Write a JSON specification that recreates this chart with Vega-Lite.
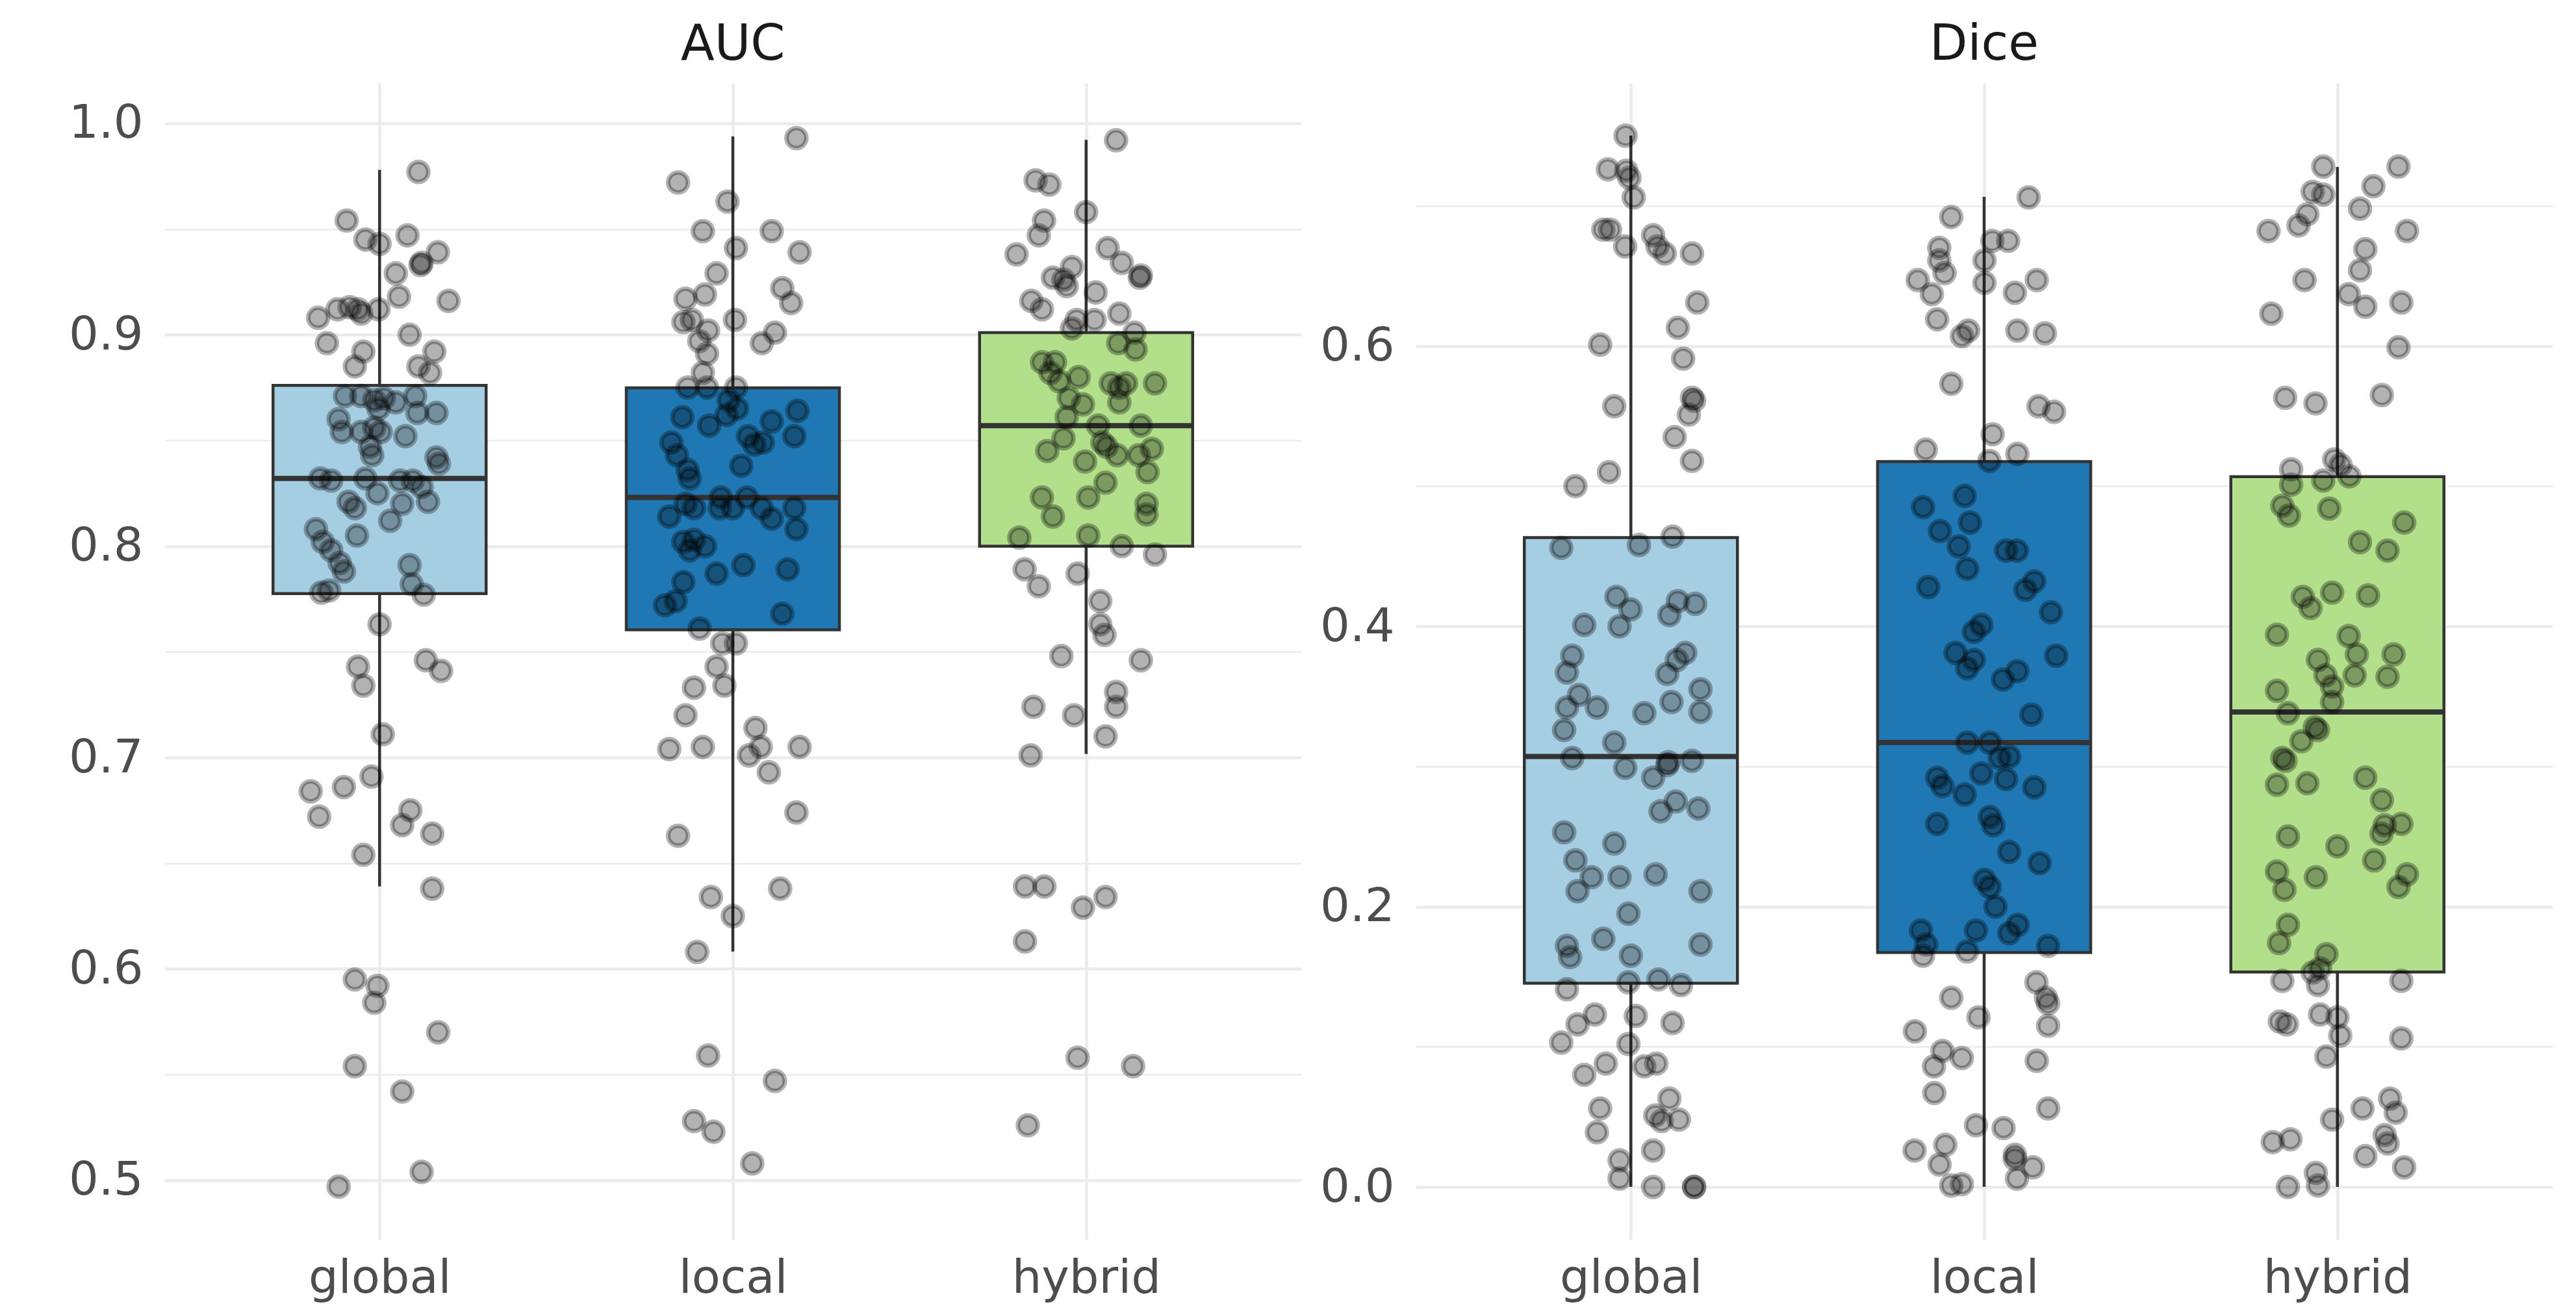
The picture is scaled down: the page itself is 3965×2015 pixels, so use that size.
{
"$schema": "https://vega.github.io/schema/vega-lite/v6.json",
"background": "white",
"padding": {"left": 105, "top": 31, "right": 0, "bottom": 12},
"spacing": 28,
"datasets": {
"auc_box": [
{"method":"global","idx":1,"lo":0.639,"q1":0.7775,"med":0.832,"q3":0.876,"hi":0.978},
{"method":"local","idx":2,"lo":0.6082,"q1":0.7604,"med":0.823,"q3":0.8749,"hi":0.9938},
{"method":"hybrid","idx":3,"lo":0.7017,"q1":0.800,"med":0.857,"q3":0.901,"hi":0.9922}
],
"dice_box": [
{"method":"global","idx":1,"lo":0,"q1":0.1454,"med":0.3071,"q3":0.4633,"hi":0.7501},
{"method":"local","idx":2,"lo":0,"q1":0.1673,"med":0.3171,"q3":0.5175,"hi":0.7064},
{"method":"hybrid","idx":3,"lo":0,"q1":0.1533,"med":0.3389,"q3":0.5068,"hi":0.7277}
],
"auc_pts": [
{"m":"global","pos":1.110,"v":0.977},{"m":"global","pos":0.907,"v":0.954},{"m":"global","pos":0.960,"v":0.945},{"m":"global","pos":1.000,"v":0.943},{"m":"global","pos":1.079,"v":0.947},{"m":"global","pos":1.165,"v":0.939},{"m":"global","pos":1.116,"v":0.933},{"m":"global","pos":1.119,"v":0.934},{"m":"global","pos":1.046,"v":0.929},{"m":"global","pos":1.055,"v":0.918},{"m":"global","pos":1.195,"v":0.916},{"m":"global","pos":0.826,"v":0.908},{"m":"global","pos":0.881,"v":0.912},{"m":"global","pos":0.915,"v":0.913},{"m":"global","pos":0.939,"v":0.912},{"m":"global","pos":0.948,"v":0.910},{"m":"global","pos":0.997,"v":0.912},{"m":"global","pos":0.851,"v":0.896},{"m":"global","pos":1.085,"v":0.900},{"m":"global","pos":0.954,"v":0.892},{"m":"global","pos":0.930,"v":0.885},{"m":"global","pos":1.155,"v":0.892},{"m":"global","pos":1.110,"v":0.885},{"m":"global","pos":1.143,"v":0.882},{"m":"global","pos":0.902,"v":0.871},{"m":"global","pos":0.948,"v":0.871},{"m":"global","pos":0.985,"v":0.869},{"m":"global","pos":1.012,"v":0.870},{"m":"global","pos":1.046,"v":0.868},{"m":"global","pos":1.101,"v":0.871},{"m":"global","pos":0.997,"v":0.865},{"m":"global","pos":0.884,"v":0.860},{"m":"global","pos":0.893,"v":0.854},{"m":"global","pos":0.948,"v":0.854},{"m":"global","pos":0.985,"v":0.856},{"m":"global","pos":1.003,"v":0.854},{"m":"global","pos":1.073,"v":0.852},{"m":"global","pos":1.161,"v":0.863},{"m":"global","pos":1.107,"v":0.863},{"m":"global","pos":0.973,"v":0.847},{"m":"global","pos":1.161,"v":0.842},{"m":"global","pos":1.168,"v":0.839},{"m":"global","pos":0.979,"v":0.843},{"m":"global","pos":0.832,"v":0.832},{"m":"global","pos":0.863,"v":0.831},{"m":"global","pos":0.960,"v":0.832},{"m":"global","pos":1.058,"v":0.831},{"m":"global","pos":1.094,"v":0.831},{"m":"global","pos":1.119,"v":0.828},{"m":"global","pos":0.994,"v":0.825},{"m":"global","pos":1.137,"v":0.821},{"m":"global","pos":1.064,"v":0.820},{"m":"global","pos":0.912,"v":0.821},{"m":"global","pos":0.930,"v":0.818},{"m":"global","pos":1.030,"v":0.812},{"m":"global","pos":0.936,"v":0.805},{"m":"global","pos":0.820,"v":0.808},{"m":"global","pos":0.839,"v":0.802},{"m":"global","pos":0.863,"v":0.798},{"m":"global","pos":0.887,"v":0.792},{"m":"global","pos":0.899,"v":0.788},{"m":"global","pos":1.085,"v":0.791},{"m":"global","pos":1.091,"v":0.782},{"m":"global","pos":1.125,"v":0.777},{"m":"global","pos":0.857,"v":0.779},{"m":"global","pos":0.835,"v":0.778},{"m":"global","pos":1.000,"v":0.763},{"m":"global","pos":0.939,"v":0.743},{"m":"global","pos":0.954,"v":0.734},{"m":"global","pos":1.131,"v":0.746},{"m":"global","pos":1.174,"v":0.741},{"m":"global","pos":1.009,"v":0.711},{"m":"global","pos":0.977,"v":0.691},{"m":"global","pos":0.805,"v":0.684},{"m":"global","pos":0.899,"v":0.686},{"m":"global","pos":0.829,"v":0.672},{"m":"global","pos":1.087,"v":0.675},{"m":"global","pos":1.064,"v":0.668},{"m":"global","pos":1.149,"v":0.664},{"m":"global","pos":0.954,"v":0.654},{"m":"global","pos":1.149,"v":0.638},{"m":"global","pos":0.930,"v":0.595},{"m":"global","pos":0.994,"v":0.592},{"m":"global","pos":0.985,"v":0.584},{"m":"global","pos":1.166,"v":0.570},{"m":"global","pos":0.930,"v":0.554},{"m":"global","pos":1.064,"v":0.542},{"m":"global","pos":1.119,"v":0.504},{"m":"global","pos":0.884,"v":0.497},
{"m":"local","pos":2.180,"v":0.993},{"m":"local","pos":1.845,"v":0.972},{"m":"local","pos":1.985,"v":0.963},{"m":"local","pos":1.915,"v":0.949},{"m":"local","pos":2.110,"v":0.949},{"m":"local","pos":2.009,"v":0.941},{"m":"local","pos":2.189,"v":0.939},{"m":"local","pos":1.954,"v":0.929},{"m":"local","pos":1.866,"v":0.917},{"m":"local","pos":1.921,"v":0.919},{"m":"local","pos":2.140,"v":0.922},{"m":"local","pos":2.165,"v":0.915},{"m":"local","pos":1.860,"v":0.906},{"m":"local","pos":1.884,"v":0.907},{"m":"local","pos":1.930,"v":0.902},{"m":"local","pos":2.006,"v":0.907},{"m":"local","pos":2.119,"v":0.901},{"m":"local","pos":2.082,"v":0.896},{"m":"local","pos":1.905,"v":0.897},{"m":"local","pos":1.927,"v":0.891},{"m":"local","pos":1.915,"v":0.882},{"m":"local","pos":1.872,"v":0.875},{"m":"local","pos":1.927,"v":0.875},{"m":"local","pos":2.009,"v":0.875},{"m":"local","pos":1.988,"v":0.869},{"m":"local","pos":2.012,"v":0.865},{"m":"local","pos":2.183,"v":0.864},{"m":"local","pos":1.857,"v":0.861},{"m":"local","pos":1.933,"v":0.857},{"m":"local","pos":1.982,"v":0.862},{"m":"local","pos":2.110,"v":0.859},{"m":"local","pos":2.043,"v":0.852},{"m":"local","pos":2.061,"v":0.848},{"m":"local","pos":2.085,"v":0.849},{"m":"local","pos":2.174,"v":0.852},{"m":"local","pos":1.826,"v":0.849},{"m":"local","pos":1.842,"v":0.843},{"m":"local","pos":1.872,"v":0.836},{"m":"local","pos":1.878,"v":0.832},{"m":"local","pos":2.024,"v":0.838},{"m":"local","pos":1.966,"v":0.823},{"m":"local","pos":2.040,"v":0.823},{"m":"local","pos":1.820,"v":0.814},{"m":"local","pos":1.866,"v":0.820},{"m":"local","pos":1.890,"v":0.818},{"m":"local","pos":1.963,"v":0.818},{"m":"local","pos":2.000,"v":0.818},{"m":"local","pos":2.082,"v":0.818},{"m":"local","pos":2.110,"v":0.813},{"m":"local","pos":2.174,"v":0.818},{"m":"local","pos":2.180,"v":0.808},{"m":"local","pos":1.860,"v":0.802},{"m":"local","pos":1.890,"v":0.803},{"m":"local","pos":1.921,"v":0.800},{"m":"local","pos":1.878,"v":0.798},{"m":"local","pos":1.954,"v":0.787},{"m":"local","pos":2.030,"v":0.791},{"m":"local","pos":2.155,"v":0.789},{"m":"local","pos":1.860,"v":0.783},{"m":"local","pos":1.838,"v":0.774},{"m":"local","pos":1.808,"v":0.772},{"m":"local","pos":2.140,"v":0.768},{"m":"local","pos":1.906,"v":0.761},{"m":"local","pos":1.970,"v":0.754},{"m":"local","pos":2.009,"v":0.754},{"m":"local","pos":1.954,"v":0.743},{"m":"local","pos":1.890,"v":0.733},{"m":"local","pos":1.976,"v":0.734},{"m":"local","pos":1.866,"v":0.720},{"m":"local","pos":1.820,"v":0.704},{"m":"local","pos":1.915,"v":0.705},{"m":"local","pos":2.064,"v":0.714},{"m":"local","pos":2.079,"v":0.705},{"m":"local","pos":2.046,"v":0.701},{"m":"local","pos":2.102,"v":0.693},{"m":"local","pos":2.189,"v":0.705},{"m":"local","pos":2.180,"v":0.674},{"m":"local","pos":1.845,"v":0.663},{"m":"local","pos":2.134,"v":0.638},{"m":"local","pos":1.938,"v":0.634},{"m":"local","pos":2.000,"v":0.625},{"m":"local","pos":1.899,"v":0.608},{"m":"local","pos":1.930,"v":0.559},{"m":"local","pos":2.119,"v":0.547},{"m":"local","pos":1.890,"v":0.528},{"m":"local","pos":1.945,"v":0.523},{"m":"local","pos":2.055,"v":0.508},
{"m":"hybrid","pos":3.085,"v":0.992},{"m":"hybrid","pos":2.857,"v":0.973},{"m":"hybrid","pos":2.896,"v":0.971},{"m":"hybrid","pos":3.000,"v":0.958},{"m":"hybrid","pos":2.881,"v":0.954},{"m":"hybrid","pos":2.866,"v":0.947},{"m":"hybrid","pos":2.803,"v":0.938},{"m":"hybrid","pos":3.061,"v":0.941},{"m":"hybrid","pos":3.101,"v":0.934},{"m":"hybrid","pos":3.152,"v":0.927},{"m":"hybrid","pos":3.155,"v":0.928},{"m":"hybrid","pos":2.960,"v":0.932},{"m":"hybrid","pos":2.906,"v":0.927},{"m":"hybrid","pos":2.936,"v":0.926},{"m":"hybrid","pos":2.945,"v":0.923},{"m":"hybrid","pos":3.027,"v":0.920},{"m":"hybrid","pos":2.845,"v":0.916},{"m":"hybrid","pos":2.875,"v":0.912},{"m":"hybrid","pos":3.094,"v":0.910},{"m":"hybrid","pos":3.024,"v":0.907},{"m":"hybrid","pos":2.960,"v":0.903},{"m":"hybrid","pos":2.973,"v":0.907},{"m":"hybrid","pos":3.137,"v":0.901},{"m":"hybrid","pos":3.091,"v":0.896},{"m":"hybrid","pos":3.140,"v":0.893},{"m":"hybrid","pos":2.875,"v":0.887},{"m":"hybrid","pos":2.912,"v":0.887},{"m":"hybrid","pos":2.899,"v":0.882},{"m":"hybrid","pos":2.979,"v":0.880},{"m":"hybrid","pos":2.924,"v":0.878},{"m":"hybrid","pos":3.070,"v":0.877},{"m":"hybrid","pos":3.113,"v":0.877},{"m":"hybrid","pos":3.195,"v":0.877},{"m":"hybrid","pos":3.094,"v":0.875},{"m":"hybrid","pos":2.951,"v":0.870},{"m":"hybrid","pos":2.991,"v":0.867},{"m":"hybrid","pos":3.094,"v":0.868},{"m":"hybrid","pos":2.945,"v":0.861},{"m":"hybrid","pos":3.034,"v":0.857},{"m":"hybrid","pos":3.155,"v":0.857},{"m":"hybrid","pos":2.936,"v":0.851},{"m":"hybrid","pos":2.890,"v":0.845},{"m":"hybrid","pos":3.046,"v":0.849},{"m":"hybrid","pos":3.058,"v":0.847},{"m":"hybrid","pos":2.997,"v":0.840},{"m":"hybrid","pos":3.088,"v":0.843},{"m":"hybrid","pos":3.186,"v":0.846},{"m":"hybrid","pos":3.149,"v":0.843},{"m":"hybrid","pos":3.174,"v":0.835},{"m":"hybrid","pos":3.055,"v":0.830},{"m":"hybrid","pos":2.875,"v":0.823},{"m":"hybrid","pos":3.006,"v":0.823},{"m":"hybrid","pos":3.171,"v":0.820},{"m":"hybrid","pos":3.171,"v":0.815},{"m":"hybrid","pos":2.906,"v":0.814},{"m":"hybrid","pos":2.811,"v":0.804},{"m":"hybrid","pos":3.006,"v":0.805},{"m":"hybrid","pos":3.101,"v":0.800},{"m":"hybrid","pos":3.195,"v":0.796},{"m":"hybrid","pos":2.826,"v":0.789},{"m":"hybrid","pos":2.866,"v":0.781},{"m":"hybrid","pos":2.976,"v":0.787},{"m":"hybrid","pos":3.040,"v":0.774},{"m":"hybrid","pos":3.040,"v":0.763},{"m":"hybrid","pos":3.052,"v":0.758},{"m":"hybrid","pos":2.930,"v":0.748},{"m":"hybrid","pos":3.155,"v":0.746},{"m":"hybrid","pos":3.085,"v":0.731},{"m":"hybrid","pos":3.085,"v":0.724},{"m":"hybrid","pos":2.851,"v":0.724},{"m":"hybrid","pos":2.966,"v":0.720},{"m":"hybrid","pos":3.055,"v":0.710},{"m":"hybrid","pos":2.843,"v":0.701},{"m":"hybrid","pos":2.827,"v":0.639},{"m":"hybrid","pos":2.882,"v":0.639},{"m":"hybrid","pos":3.055,"v":0.634},{"m":"hybrid","pos":2.991,"v":0.629},{"m":"hybrid","pos":2.827,"v":0.613},{"m":"hybrid","pos":2.976,"v":0.558},{"m":"hybrid","pos":3.133,"v":0.554},{"m":"hybrid","pos":2.835,"v":0.526}
],
"dice_pts": [
{"m":"global","pos":0.985,"v":0.750},{"m":"global","pos":0.935,"v":0.726},{"m":"global","pos":0.987,"v":0.725},{"m":"global","pos":0.996,"v":0.720},{"m":"global","pos":1.008,"v":0.706},{"m":"global","pos":0.922,"v":0.683},{"m":"global","pos":0.941,"v":0.683},{"m":"global","pos":0.984,"v":0.671},{"m":"global","pos":1.063,"v":0.679},{"m":"global","pos":1.075,"v":0.671},{"m":"global","pos":1.096,"v":0.666},{"m":"global","pos":1.173,"v":0.666},{"m":"global","pos":1.188,"v":0.631},{"m":"global","pos":1.133,"v":0.613},{"m":"global","pos":0.913,"v":0.601},{"m":"global","pos":1.148,"v":0.591},{"m":"global","pos":1.173,"v":0.563},{"m":"global","pos":1.179,"v":0.561},{"m":"global","pos":1.164,"v":0.551},{"m":"global","pos":0.953,"v":0.557},{"m":"global","pos":1.124,"v":0.535},{"m":"global","pos":1.173,"v":0.518},{"m":"global","pos":0.938,"v":0.510},{"m":"global","pos":0.843,"v":0.500},{"m":"global","pos":1.118,"v":0.464},{"m":"global","pos":0.803,"v":0.456},{"m":"global","pos":1.023,"v":0.458},{"m":"global","pos":0.959,"v":0.421},{"m":"global","pos":0.999,"v":0.412},{"m":"global","pos":1.133,"v":0.418},{"m":"global","pos":1.182,"v":0.416},{"m":"global","pos":1.109,"v":0.408},{"m":"global","pos":0.868,"v":0.401},{"m":"global","pos":0.968,"v":0.400},{"m":"global","pos":0.834,"v":0.379},{"m":"global","pos":1.154,"v":0.381},{"m":"global","pos":1.130,"v":0.376},{"m":"global","pos":0.819,"v":0.367},{"m":"global","pos":1.103,"v":0.366},{"m":"global","pos":0.853,"v":0.351},{"m":"global","pos":0.819,"v":0.342},{"m":"global","pos":0.904,"v":0.342},{"m":"global","pos":1.038,"v":0.338},{"m":"global","pos":1.115,"v":0.346},{"m":"global","pos":1.197,"v":0.355},{"m":"global","pos":1.197,"v":0.339},{"m":"global","pos":0.811,"v":0.326},{"m":"global","pos":0.953,"v":0.317},{"m":"global","pos":0.834,"v":0.306},{"m":"global","pos":0.984,"v":0.299},{"m":"global","pos":1.063,"v":0.292},{"m":"global","pos":1.106,"v":0.303},{"m":"global","pos":1.103,"v":0.301},{"m":"global","pos":1.173,"v":0.304},{"m":"global","pos":1.084,"v":0.268},{"m":"global","pos":1.127,"v":0.275},{"m":"global","pos":1.191,"v":0.270},{"m":"global","pos":0.811,"v":0.253},{"m":"global","pos":0.953,"v":0.245},{"m":"global","pos":0.843,"v":0.233},{"m":"global","pos":0.889,"v":0.221},{"m":"global","pos":0.968,"v":0.221},{"m":"global","pos":1.070,"v":0.223},{"m":"global","pos":0.849,"v":0.211},{"m":"global","pos":1.197,"v":0.211},{"m":"global","pos":0.993,"v":0.195},{"m":"global","pos":0.922,"v":0.177},{"m":"global","pos":0.819,"v":0.172},{"m":"global","pos":0.828,"v":0.164},{"m":"global","pos":1.000,"v":0.165},{"m":"global","pos":1.197,"v":0.173},{"m":"global","pos":0.993,"v":0.146},{"m":"global","pos":1.078,"v":0.148},{"m":"global","pos":1.142,"v":0.144},{"m":"global","pos":0.819,"v":0.141},{"m":"global","pos":0.898,"v":0.123},{"m":"global","pos":0.849,"v":0.116},{"m":"global","pos":0.803,"v":0.103},{"m":"global","pos":1.014,"v":0.122},{"m":"global","pos":1.118,"v":0.117},{"m":"global","pos":0.993,"v":0.102},{"m":"global","pos":0.929,"v":0.088},{"m":"global","pos":0.868,"v":0.080},{"m":"global","pos":1.038,"v":0.086},{"m":"global","pos":1.072,"v":0.088},{"m":"global","pos":0.913,"v":0.056},{"m":"global","pos":0.904,"v":0.039},{"m":"global","pos":1.109,"v":0.063},{"m":"global","pos":1.069,"v":0.051},{"m":"global","pos":1.087,"v":0.047},{"m":"global","pos":1.136,"v":0.048},{"m":"global","pos":1.063,"v":0.026},{"m":"global","pos":0.968,"v":0.019},{"m":"global","pos":0.968,"v":0.006},{"m":"global","pos":1.063,"v":0.000},{"m":"global","pos":1.179,"v":0.000},{"m":"global","pos":1.179,"v":0.000},
{"m":"local","pos":2.126,"v":0.706},{"m":"local","pos":1.907,"v":0.692},{"m":"local","pos":2.023,"v":0.675},{"m":"local","pos":2.068,"v":0.675},{"m":"local","pos":1.873,"v":0.670},{"m":"local","pos":1.873,"v":0.661},{"m":"local","pos":1.888,"v":0.652},{"m":"local","pos":2.001,"v":0.661},{"m":"local","pos":2.001,"v":0.645},{"m":"local","pos":1.812,"v":0.647},{"m":"local","pos":1.852,"v":0.637},{"m":"local","pos":2.087,"v":0.638},{"m":"local","pos":2.149,"v":0.647},{"m":"local","pos":1.867,"v":0.619},{"m":"local","pos":1.955,"v":0.611},{"m":"local","pos":1.937,"v":0.607},{"m":"local","pos":2.094,"v":0.611},{"m":"local","pos":2.172,"v":0.609},{"m":"local","pos":1.907,"v":0.573},{"m":"local","pos":2.154,"v":0.557},{"m":"local","pos":2.198,"v":0.553},{"m":"local","pos":2.024,"v":0.537},{"m":"local","pos":1.835,"v":0.526},{"m":"local","pos":2.094,"v":0.523},{"m":"local","pos":2.015,"v":0.518},{"m":"local","pos":1.945,"v":0.493},{"m":"local","pos":1.827,"v":0.485},{"m":"local","pos":1.960,"v":0.474},{"m":"local","pos":1.875,"v":0.468},{"m":"local","pos":1.928,"v":0.457},{"m":"local","pos":2.062,"v":0.454},{"m":"local","pos":2.093,"v":0.454},{"m":"local","pos":1.952,"v":0.441},{"m":"local","pos":1.842,"v":0.428},{"m":"local","pos":2.117,"v":0.426},{"m":"local","pos":2.142,"v":0.432},{"m":"local","pos":2.189,"v":0.410},{"m":"local","pos":1.992,"v":0.401},{"m":"local","pos":1.971,"v":0.396},{"m":"local","pos":1.919,"v":0.381},{"m":"local","pos":1.952,"v":0.370},{"m":"local","pos":1.971,"v":0.376},{"m":"local","pos":2.204,"v":0.379},{"m":"local","pos":2.053,"v":0.362},{"m":"local","pos":2.094,"v":0.368},{"m":"local","pos":2.134,"v":0.337},{"m":"local","pos":1.952,"v":0.317},{"m":"local","pos":2.016,"v":0.317},{"m":"local","pos":2.044,"v":0.306},{"m":"local","pos":2.071,"v":0.307},{"m":"local","pos":1.867,"v":0.292},{"m":"local","pos":1.882,"v":0.286},{"m":"local","pos":1.992,"v":0.295},{"m":"local","pos":2.062,"v":0.291},{"m":"local","pos":1.945,"v":0.280},{"m":"local","pos":2.142,"v":0.285},{"m":"local","pos":1.867,"v":0.259},{"m":"local","pos":2.016,"v":0.264},{"m":"local","pos":2.026,"v":0.258},{"m":"local","pos":2.071,"v":0.239},{"m":"local","pos":2.157,"v":0.231},{"m":"local","pos":2.001,"v":0.219},{"m":"local","pos":2.016,"v":0.214},{"m":"local","pos":2.032,"v":0.200},{"m":"local","pos":1.821,"v":0.183},{"m":"local","pos":1.836,"v":0.173},{"m":"local","pos":1.977,"v":0.183},{"m":"local","pos":2.071,"v":0.181},{"m":"local","pos":2.095,"v":0.187},{"m":"local","pos":1.952,"v":0.168},{"m":"local","pos":2.181,"v":0.172},{"m":"local","pos":1.827,"v":0.165},{"m":"local","pos":1.907,"v":0.135},{"m":"local","pos":1.984,"v":0.121},{"m":"local","pos":1.804,"v":0.111},{"m":"local","pos":1.882,"v":0.097},{"m":"local","pos":1.937,"v":0.092},{"m":"local","pos":1.858,"v":0.086},{"m":"local","pos":1.859,"v":0.067},{"m":"local","pos":2.148,"v":0.146},{"m":"local","pos":2.175,"v":0.135},{"m":"local","pos":2.181,"v":0.131},{"m":"local","pos":2.181,"v":0.115},{"m":"local","pos":2.149,"v":0.090},{"m":"local","pos":2.181,"v":0.056},{"m":"local","pos":1.977,"v":0.044},{"m":"local","pos":2.055,"v":0.042},{"m":"local","pos":1.803,"v":0.026},{"m":"local","pos":1.890,"v":0.030},{"m":"local","pos":1.874,"v":0.016},{"m":"local","pos":2.087,"v":0.023},{"m":"local","pos":2.087,"v":0.020},{"m":"local","pos":2.138,"v":0.014},{"m":"local","pos":2.093,"v":0.006},{"m":"local","pos":1.907,"v":0.001},{"m":"local","pos":1.937,"v":0.002},
{"m":"hybrid","pos":2.960,"v":0.728},{"m":"hybrid","pos":3.173,"v":0.728},{"m":"hybrid","pos":3.102,"v":0.714},{"m":"hybrid","pos":2.930,"v":0.710},{"m":"hybrid","pos":2.960,"v":0.708},{"m":"hybrid","pos":3.064,"v":0.698},{"m":"hybrid","pos":2.915,"v":0.694},{"m":"hybrid","pos":2.890,"v":0.686},{"m":"hybrid","pos":2.805,"v":0.682},{"m":"hybrid","pos":3.197,"v":0.682},{"m":"hybrid","pos":3.079,"v":0.669},{"m":"hybrid","pos":3.064,"v":0.654},{"m":"hybrid","pos":2.907,"v":0.647},{"m":"hybrid","pos":3.032,"v":0.637},{"m":"hybrid","pos":3.079,"v":0.628},{"m":"hybrid","pos":3.181,"v":0.631},{"m":"hybrid","pos":2.813,"v":0.623},{"m":"hybrid","pos":3.173,"v":0.599},{"m":"hybrid","pos":2.852,"v":0.563},{"m":"hybrid","pos":2.938,"v":0.559},{"m":"hybrid","pos":3.126,"v":0.565},{"m":"hybrid","pos":2.991,"v":0.519},{"m":"hybrid","pos":3.009,"v":0.515},{"m":"hybrid","pos":3.034,"v":0.507},{"m":"hybrid","pos":2.869,"v":0.512},{"m":"hybrid","pos":2.960,"v":0.504},{"m":"hybrid","pos":2.869,"v":0.501},{"m":"hybrid","pos":2.844,"v":0.486},{"m":"hybrid","pos":2.863,"v":0.479},{"m":"hybrid","pos":2.977,"v":0.484},{"m":"hybrid","pos":3.189,"v":0.474},{"m":"hybrid","pos":3.064,"v":0.460},{"m":"hybrid","pos":3.142,"v":0.454},{"m":"hybrid","pos":2.902,"v":0.421},{"m":"hybrid","pos":2.924,"v":0.413},{"m":"hybrid","pos":2.985,"v":0.424},{"m":"hybrid","pos":3.087,"v":0.422},{"m":"hybrid","pos":2.829,"v":0.394},{"m":"hybrid","pos":3.032,"v":0.393},{"m":"hybrid","pos":2.945,"v":0.376},{"m":"hybrid","pos":3.055,"v":0.380},{"m":"hybrid","pos":3.159,"v":0.380},{"m":"hybrid","pos":2.966,"v":0.365},{"m":"hybrid","pos":3.049,"v":0.365},{"m":"hybrid","pos":3.142,"v":0.364},{"m":"hybrid","pos":2.985,"v":0.357},{"m":"hybrid","pos":2.985,"v":0.346},{"m":"hybrid","pos":2.829,"v":0.354},{"m":"hybrid","pos":2.860,"v":0.338},{"m":"hybrid","pos":2.936,"v":0.328},{"m":"hybrid","pos":2.945,"v":0.326},{"m":"hybrid","pos":2.898,"v":0.318},{"m":"hybrid","pos":2.844,"v":0.306},{"m":"hybrid","pos":2.853,"v":0.304},{"m":"hybrid","pos":2.829,"v":0.287},{"m":"hybrid","pos":2.915,"v":0.288},{"m":"hybrid","pos":3.079,"v":0.292},{"m":"hybrid","pos":3.126,"v":0.276},{"m":"hybrid","pos":3.134,"v":0.258},{"m":"hybrid","pos":3.125,"v":0.252},{"m":"hybrid","pos":3.181,"v":0.259},{"m":"hybrid","pos":2.860,"v":0.250},{"m":"hybrid","pos":3.000,"v":0.243},{"m":"hybrid","pos":3.104,"v":0.233},{"m":"hybrid","pos":2.829,"v":0.225},{"m":"hybrid","pos":2.850,"v":0.212},{"m":"hybrid","pos":2.939,"v":0.221},{"m":"hybrid","pos":3.197,"v":0.223},{"m":"hybrid","pos":3.173,"v":0.214},{"m":"hybrid","pos":2.860,"v":0.187},{"m":"hybrid","pos":2.835,"v":0.174},{"m":"hybrid","pos":2.969,"v":0.166},{"m":"hybrid","pos":2.951,"v":0.156},{"m":"hybrid","pos":2.930,"v":0.153},{"m":"hybrid","pos":2.844,"v":0.147},{"m":"hybrid","pos":2.945,"v":0.144},{"m":"hybrid","pos":3.181,"v":0.147},{"m":"hybrid","pos":2.951,"v":0.123},{"m":"hybrid","pos":3.000,"v":0.121},{"m":"hybrid","pos":3.008,"v":0.108},{"m":"hybrid","pos":2.837,"v":0.118},{"m":"hybrid","pos":2.857,"v":0.116},{"m":"hybrid","pos":2.969,"v":0.093},{"m":"hybrid","pos":3.181,"v":0.106},{"m":"hybrid","pos":2.985,"v":0.048},{"m":"hybrid","pos":3.071,"v":0.056},{"m":"hybrid","pos":3.149,"v":0.063},{"m":"hybrid","pos":3.165,"v":0.053},{"m":"hybrid","pos":3.134,"v":0.037},{"m":"hybrid","pos":3.142,"v":0.031},{"m":"hybrid","pos":3.079,"v":0.022},{"m":"hybrid","pos":3.189,"v":0.014},{"m":"hybrid","pos":2.817,"v":0.032},{"m":"hybrid","pos":2.867,"v":0.034},{"m":"hybrid","pos":2.939,"v":0.010},{"m":"hybrid","pos":2.945,"v":0.001},{"m":"hybrid","pos":2.860,"v":0.000}
]
},
"hconcat": [
{
"title": "AUC",
"width": 1750,
"height": 1780,
"layer": [
{"data": {"name": "auc_box"}, "mark": {"type": "rule", "color": "#333333", "strokeWidth": 4.5},
 "encoding": {
  "x": {"field": "idx", "type": "quantitative", "scale": {"domain": [0.4, 3.6], "nice": false, "zero": false},
        "axis": {"values": [1, 2, 3], "labelExpr": "['', 'global', 'local', 'hybrid'][datum.value]", "labelPadding": 24, "gridWidth": 4.5, "title": null}},
  "y": {"field": "lo", "type": "quantitative", "scale": {"domain": [0.472, 1.019], "nice": false, "zero": false},
        "axis": {"values": [0.5, 0.55, 0.6, 0.65, 0.7, 0.75, 0.8, 0.85, 0.9, 0.95, 1.0],
                 "labelExpr": "round(datum.value * 100) % 10 == 0 ? format(datum.value, '.1f') : ''",
                 "gridWidth": {"condition": {"test": "round(datum.value * 100) % 10 != 0", "value": 2.5}, "value": 4.5},
                 "labelPadding": 33, "title": null}},
  "y2": {"field": "hi"}
 }},
{"data": {"name": "auc_box"}, "mark": {"type": "bar", "width": 328, "stroke": "#333333", "strokeWidth": 4.5, "opacity": 1},
 "encoding": {
  "x": {"field": "idx", "type": "quantitative"},
  "y": {"field": "q1", "type": "quantitative"},
  "y2": {"field": "q3"},
  "color": {"field": "method", "type": "nominal", "scale": {"domain": ["global", "local", "hybrid"], "range": ["#A6CEE3", "#1F78B4", "#B2DF8A"]}, "legend": null}
 }},
{"data": {"name": "auc_box"}, "mark": {"type": "tick", "orient": "horizontal", "size": 328, "thickness": 8, "color": "#333333", "opacity": 1},
 "encoding": {
  "x": {"field": "idx", "type": "quantitative"},
  "y": {"field": "med", "type": "quantitative"}
 }},
{"data": {"name": "auc_pts"}, "mark": {"type": "point", "shape": "circle", "filled": true, "size": 940, "fill": "black", "stroke": "black", "fillOpacity": 0.3, "strokeOpacity": 0.3, "strokeWidth": 7, "opacity": 1},
 "encoding": {
  "x": {"field": "pos", "type": "quantitative"},
  "y": {"field": "v", "type": "quantitative"}
 }}
]
},
{
"title": "Dice",
"width": 1750,
"height": 1780,
"layer": [
{"data": {"name": "dice_box"}, "mark": {"type": "rule", "color": "#333333", "strokeWidth": 4.5},
 "encoding": {
  "x": {"field": "idx", "type": "quantitative", "scale": {"domain": [0.4, 3.6], "nice": false, "zero": false},
        "axis": {"values": [1, 2, 3], "labelExpr": "['', 'global', 'local', 'hybrid'][datum.value]", "labelPadding": 24, "gridWidth": 4.5, "title": null}},
  "y": {"field": "lo", "type": "quantitative", "scale": {"domain": [-0.0375, 0.7875], "nice": false, "zero": false},
        "axis": {"values": [0, 0.1, 0.2, 0.3, 0.4, 0.5, 0.6, 0.7],
                 "labelExpr": "round(datum.value * 10) % 2 == 0 ? format(datum.value, '.1f') : ''",
                 "gridWidth": {"condition": {"test": "round(datum.value * 10) % 2 != 0", "value": 2.5}, "value": 4.5},
                 "labelPadding": 33, "title": null}},
  "y2": {"field": "hi"}
 }},
{"data": {"name": "dice_box"}, "mark": {"type": "bar", "width": 328, "stroke": "#333333", "strokeWidth": 4.5, "opacity": 1},
 "encoding": {
  "x": {"field": "idx", "type": "quantitative"},
  "y": {"field": "q1", "type": "quantitative"},
  "y2": {"field": "q3"},
  "color": {"field": "method", "type": "nominal", "scale": {"domain": ["global", "local", "hybrid"], "range": ["#A6CEE3", "#1F78B4", "#B2DF8A"]}, "legend": null}
 }},
{"data": {"name": "dice_box"}, "mark": {"type": "tick", "orient": "horizontal", "size": 328, "thickness": 8, "color": "#333333", "opacity": 1},
 "encoding": {
  "x": {"field": "idx", "type": "quantitative"},
  "y": {"field": "med", "type": "quantitative"}
 }},
{"data": {"name": "dice_pts"}, "mark": {"type": "point", "shape": "circle", "filled": true, "size": 940, "fill": "black", "stroke": "black", "fillOpacity": 0.3, "strokeOpacity": 0.3, "strokeWidth": 7, "opacity": 1},
 "encoding": {
  "x": {"field": "pos", "type": "quantitative"},
  "y": {"field": "v", "type": "quantitative"}
 }}
]
}
],
"config": {
 "view": {"stroke": null},
 "font": "DejaVu Sans",
 "axis": {"domain": false, "ticks": false, "labelFont": "DejaVu Sans", "labelFontSize": 72, "labelColor": "#4D4D4D", "gridColor": "#EBEBEB", "labelOverlap": false, "labelFlush": false, "labelLimit": 2000},
 "title": {"font": "DejaVu Sans", "fontSize": 76, "fontWeight": "normal", "color": "#1A1A1A", "anchor": "middle", "offset": 20}
}
}
